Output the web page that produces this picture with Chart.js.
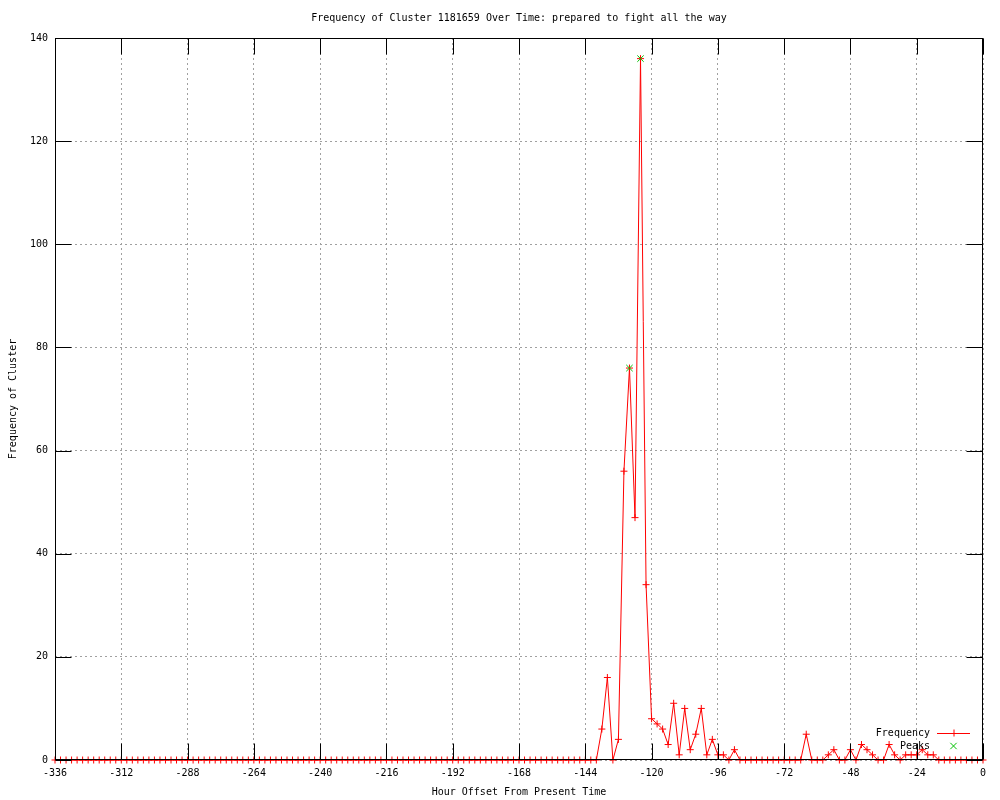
<!DOCTYPE html>
<html>
<head>
<meta charset="utf-8">
<script src="https://cdn.jsdelivr.net/npm/chart.js@4"></script>
<style>
  html, body { margin: 0; padding: 0; background: #fff; }
  #wrap { width: 1000px; height: 800px; position: relative; }
</style>
</head>
<body>
<div id="wrap"><canvas id="c" width="1000" height="800"></canvas></div>
<script>
// ---- data ----
const hours = [
  -336,-334,-332,-330,-328,-326,-324,-322,-320,-318,-316,-314,
  -312,-310,-308,-306,-304,-302,-300,-298,-296,-294,-292,-290,
  -288,-286,-284,-282,-280,-278,-276,-274,-272,-270,-268,-266,
  -264,-262,-260,-258,-256,-254,-252,-250,-248,-246,-244,-242,
  -240,-238,-236,-234,-232,-230,-228,-226,-224,-222,-220,-218,
  -216,-214,-212,-210,-208,-206,-204,-202,-200,-198,-196,-194,
  -192,-190,-188,-186,-184,-182,-180,-178,-176,-174,-172,-170,
  -168,-166,-164,-162,-160,-158,-156,-154,-152,-150,-148,-146,
  -144,-142,-140,-138,-136,-134,-132,-130,-128,-126,-124,-122,
  -120,-118,-116,-114,-112,-110,-108,-106,-104,-102,-100,-98,
  -96,-94,-92,-90,-88,-86,-84,-82,-80,-78,-76,-74,
  -72,-70,-68,-66,-64,-62,-60,-58,-56,-54,-52,-50,
  -48,-46,-44,-42,-40,-38,-36,-34,-32,-30,-28,-26,
  -24,-22,-20,-18,-16,-14,-12,-10,-8,-6,-4,-2,
  0
];
const frequency = [
  0,0,0,0,0,0,0,0,0,0,0,0,
  0,0,0,0,0,0,0,0,0,0,0,0,
  0,0,0,0,0,0,0,0,0,0,0,0,
  0,0,0,0,0,0,0,0,0,0,0,0,
  0,0,0,0,0,0,0,0,0,0,0,0,
  0,0,0,0,0,0,0,0,0,0,0,0,
  0,0,0,0,0,0,0,0,0,0,0,0,
  0,0,0,0,0,0,0,0,0,0,0,0,
  0,0,0,6,16,0,4,56,76,47,136,34,
  8,7,6,3,11,1,10,2,5,10,1,4,
  1,1,0,2,0,0,0,0,0,0,0,0,
  0,0,0,0,5,0,0,0,1,2,0,0,
  2,0,3,2,1,0,0,3,1,0,1,1,
  1,2,1,1,0,0,0,0,0,0,0,0,
  0
];
const peakHours = [-128, -124];
const peakValues = [76, 136];
const xTicks = [-336,-312,-288,-264,-240,-216,-192,-168,-144,-120,-96,-72,-48,-24,0];
const yTicks = [0,20,40,60,80,100,120,140];

const titleText = 'Frequency of Cluster 1181659 Over Time: prepared to fight all the way';
const xTitle = 'Hour Offset From Present Time';
const yTitle = 'Frequency of Cluster';

// ---- chart ----
Chart.defaults.font.family = "'DejaVu Sans Mono', 'Liberation Mono', monospace";
Chart.defaults.font.size = 10;
Chart.defaults.color = '#000';

const RED = '#ff0000';
const GREEN = '#00c000';

const gnuFrame = {
  id: 'gnuFrame',
  afterLayout(chart) {
    // centre the title over the plot area, as gnuplot does
    if (chart.titleBlock) {
      chart.titleBlock.left = chart.chartArea.left;
      chart.titleBlock.right = chart.chartArea.right;
    }
  },
  afterDatasetsDraw(chart) {
    const {ctx, chartArea: a, scales: {x, y}} = chart;
    const L = Math.round(a.left) + 0.5, R = Math.round(a.right) - 0.5;
    const T = Math.round(a.top) + 0.5, B = Math.round(a.bottom) - 0.5;
    ctx.save();
    // border and inward tics
    ctx.strokeStyle = '#000';
    ctx.lineWidth = 1;
    ctx.beginPath();
    x.ticks.forEach(t => {
      const px = Math.round(x.getPixelForValue(t.value)) + 0.5;
      ctx.moveTo(px, B); ctx.lineTo(px, B - 16);
      ctx.moveTo(px, T); ctx.lineTo(px, T + 16);
    });
    y.ticks.forEach(t => {
      const py = Math.round(y.getPixelForValue(t.value)) + 0.5;
      ctx.moveTo(L, py); ctx.lineTo(L + 16, py);
      ctx.moveTo(R, py); ctx.lineTo(R - 16, py);
    });
    ctx.stroke();
    ctx.strokeRect(L, T, R - L, B - T);

    // key (legend) inside the plot, bottom right
    ctx.font = "10px 'DejaVu Sans Mono', monospace";
    ctx.textAlign = 'right';
    ctx.textBaseline = 'middle';
    ctx.fillStyle = '#000';
    const textRight = a.right - 53;
    const sx0 = a.right - 46, sx1 = a.right - 13, sxm = (sx0 + sx1) / 2;
    const rows = [a.bottom - 27, a.bottom - 14];
    chart.data.datasets.forEach((ds) => {
      const yy = rows[ds.legendRow];
      ctx.fillText(ds.label, textRight, yy);
      ctx.strokeStyle = ds.borderColor;
      ctx.lineWidth = 1;
      ctx.beginPath();
      if (ds.showLine !== false) {
        ctx.moveTo(sx0, yy + 0.5); ctx.lineTo(sx1, yy + 0.5);
      }
      const r = ds.pointRadius;
      if (ds.pointStyle === 'cross') {
        ctx.moveTo(sxm - r, yy + 0.5); ctx.lineTo(sxm + r, yy + 0.5);
        ctx.moveTo(sxm + 0.5, yy - r); ctx.lineTo(sxm + 0.5, yy + r);
      } else {
        const d = r * 0.7071;
        ctx.moveTo(sxm - d, yy - d); ctx.lineTo(sxm + d, yy + d);
        ctx.moveTo(sxm - d, yy + d); ctx.lineTo(sxm + d, yy - d);
      }
      ctx.stroke();
    });
    ctx.restore();
  }
};

new Chart(document.getElementById('c'), {
  type: 'line',
  data: {
    datasets: [
      {
        label: 'Frequency',
        data: hours.map((h, i) => ({x: h, y: frequency[i]})),
        borderColor: RED,
        backgroundColor: RED,
        borderWidth: 1,
        pointStyle: 'cross',
        pointRadius: 3.5,
        pointBorderWidth: 1,
        pointBorderColor: RED,
        tension: 0,
        clip: false,
        order: 2,
        legendRow: 0
      },
      {
        label: 'Peaks',
        data: peakHours.map((h, i) => ({x: h, y: peakValues[i]})),
        borderColor: GREEN,
        backgroundColor: GREEN,
        showLine: false,
        pointStyle: 'crossRot',
        pointRadius: 4.5,
        pointBorderWidth: 1,
        pointBorderColor: GREEN,
        clip: false,
        order: 1,
        legendRow: 1
      }
    ]
  },
  options: {
    responsive: false,
    animation: false,
    devicePixelRatio: 1,
    layout: { padding: { left: 0, right: 17, top: 0, bottom: 0 } },
    plugins: {
      legend: { display: false },
      tooltip: { enabled: false },
      title: {
        display: true,
        text: titleText,
        color: '#000',
        font: { size: 10, weight: 'normal', lineHeight: 1.2 },
        padding: { top: 12, bottom: 14 }
      }
    },
    scales: {
      x: {
        type: 'linear',
        min: -336, max: 0,
        afterBuildTicks: s => { s.ticks = xTicks.map(v => ({value: v})); },
        afterFit: s => { s.height = 40; },
        ticks: { padding: 7, maxRotation: 0, autoSkip: false, color: '#000', callback: v => String(v) },
        grid: { color: '#a0a0a0', drawTicks: false, tickLength: 0 },
        border: { display: false, dash: [2, 3] },
        title: { display: true, text: xTitle, color: '#000', font: { size: 10 }, padding: { top: 0, bottom: 2 } }
      },
      y: {
        type: 'linear',
        min: 0, max: 140,
        afterBuildTicks: s => { s.ticks = yTicks.map(v => ({value: v})); },
        afterFit: s => { s.width = 55; },
        ticks: { padding: 7, color: '#000' },
        grid: { color: '#a0a0a0', drawTicks: false, tickLength: 0 },
        border: { display: false, dash: [2, 3] },
        title: { display: true, text: yTitle, color: '#000', font: { size: 10 }, padding: { top: 7, bottom: 0 } }
      }
    }
  },
  plugins: [gnuFrame]
});
</script>
</body>
</html>
